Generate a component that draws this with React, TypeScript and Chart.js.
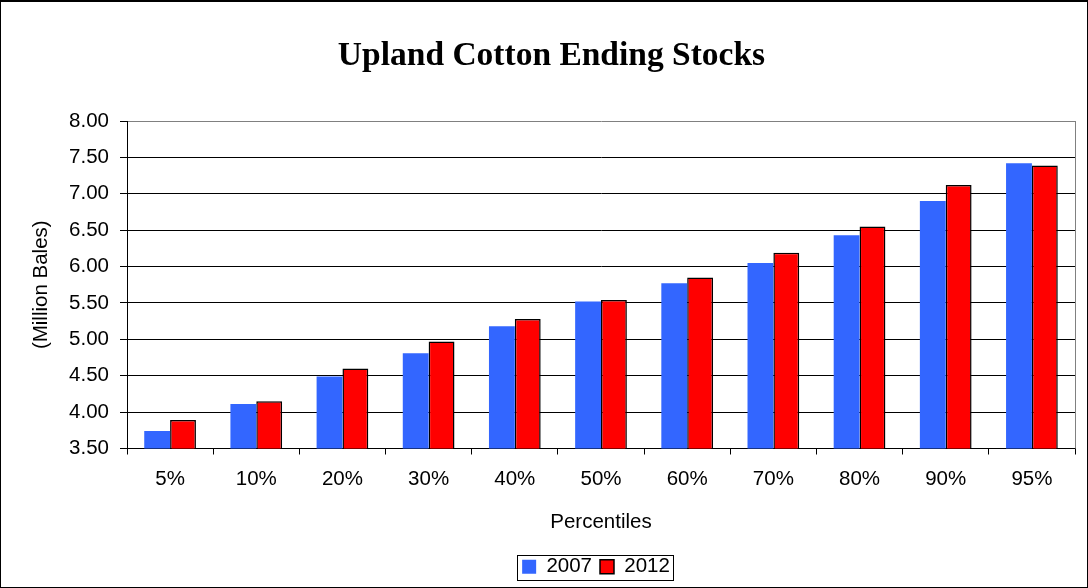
import React, { useEffect, useRef } from 'react';
import { Chart, registerables } from 'chart.js';

Chart.register(...registerables);

const categories = ['5%', '10%', '20%', '30%', '40%', '50%', '60%', '70%', '80%', '90%', '95%'];
const stocks2007 = [3.74, 4.11, 4.49, 4.81, 5.18, 5.52, 5.77, 6.05, 6.43, 6.9, 7.42];
const stocks2012 = [3.89, 4.15, 4.6, 4.97, 5.28, 5.54, 5.85, 6.19, 6.55, 7.12, 7.39];
const seriesLabels = ['2007', '2012'];
const yMin = 3.5;
const yMax = 8;
const yStep = 0.5;
const chartTitle = 'Upland Cotton Ending Stocks';
const yTitle = '(Million Bales)';
const xTitle = 'Percentiles';

const SANS = "'Liberation Sans', Arial, sans-serif";
const SERIF = "'Liberation Serif', 'Times New Roman', serif";
const FS = 20.5;

const framePlugin = {
  id: 'frame',
  afterUpdate(chart: any) {
    // shift title and legend so they sit where the reference places them
    const tb = chart.titleBlock;
    if (tb) {
      tb.left += 14;
      tb.right += 14;
    }
    const lg = chart.legend;
    if (lg) {
      const target = 600;
      const pad = lg.options.labels.padding || 0;
      const cur = (lg.left + lg.right + pad) / 2;
      const shift = target - cur;
      lg.left += shift;
      lg.right += shift;
      (lg.legendHitBoxes || []).forEach((h: any) => {
        h.left += shift;
      });
    }
  },
  beforeDraw(chart: any) {
    const { ctx, width, height } = chart;
    ctx.save();
    ctx.fillStyle = '#fff';
    ctx.fillRect(0, 0, width, height);
    ctx.restore();
  },
  afterDraw(chart: any) {
    const { ctx, chartArea: a, width, height } = chart;
    ctx.save();
    ctx.strokeStyle = '#808080';
    ctx.lineWidth = 1;
    ctx.beginPath();
    ctx.moveTo(Math.round(a.right) + 0.5, a.top);
    ctx.lineTo(Math.round(a.right) + 0.5, a.bottom);
    ctx.stroke();
    const boxes = chart.legend && chart.legend.legendHitBoxes;
    if (boxes && boxes.length) {
      let l = Infinity, r = -Infinity, t = Infinity, b = -Infinity;
      boxes.forEach((h: any) => {
        l = Math.min(l, h.left);
        r = Math.max(r, h.left + h.width);
        t = Math.min(t, h.top);
        b = Math.max(b, h.top + h.height);
      });
      ctx.strokeStyle = '#000';
      ctx.strokeRect(Math.round(l - 5) + 0.5, Math.round(t - 2) + 0.5, Math.round(r - l + 8), Math.round(b - t + 4));
    }
    ctx.strokeStyle = '#000';
    ctx.lineWidth = 1;
    ctx.strokeRect(0.5, 0.5, width - 1, height - 1);
    ctx.fillStyle = '#000';
    ctx.fillRect(0, 0, width, 2);
    ctx.restore();
  },
};

export default function App() {
  const ref = useRef<HTMLCanvasElement | null>(null);

  useEffect(() => {
    if (!ref.current) return;
    const chart = new Chart(ref.current, {
      type: 'bar',
      data: {
        labels: categories,
        datasets: [
          {
            label: seriesLabels[0],
            data: stocks2007,
            backgroundColor: '#3366FF',
            borderColor: '#3366FF',
            borderWidth: 0,
            categoryPercentage: 0.6,
            barPercentage: 1.0,
          },
          {
            label: seriesLabels[1],
            data: stocks2012,
            backgroundColor: '#FF0000',
            borderColor: '#000000',
            borderWidth: 1.5,
            categoryPercentage: 0.6,
            barPercentage: 1.0,
          },
        ],
      },
      options: {
        responsive: false,
        animation: false,
        devicePixelRatio: 1,
        layout: { padding: { left: 0, right: 13, top: 0, bottom: 1 } },
        plugins: {
          title: {
            display: true,
            text: chartTitle,
            color: '#000',
            font: { family: SERIF, size: 33.5, weight: 'bold' },
            padding: { top: 36, bottom: 44.8 },
          },
          legend: {
            display: true,
            position: 'bottom',
            labels: {
              color: '#000',
              font: { family: SANS, size: FS },
              boxWidth: 14,
              boxHeight: 14,
              padding: 8,
            },
          },
          tooltip: { enabled: false },
        },
        scales: {
          x: {
            grid: {
              display: true,
              drawOnChartArea: false,
              offset: true,
              tickLength: 6,
              color: '#000',
            },
            border: { display: true, color: '#000', width: 1 },
            ticks: { color: '#000', font: { family: SANS, size: FS }, padding: 13 },
            title: {
              display: true,
              text: xTitle,
              color: '#000',
              font: { family: SANS, size: FS },
              padding: { top: 0, bottom: 14 },
            },
            afterFit: (s: any) => {
              s.height = 100;
            },
          },
          y: {
            min: yMin,
            max: yMax,
            grid: {
              color: (c: any) => (c.tick && c.tick.value === yMax ? '#808080' : '#000'),
              lineWidth: 1,
              tickLength: 7,
              tickColor: '#000',
            },
            border: { display: true, color: '#000', width: 1 },
            ticks: {
              stepSize: yStep,
              color: '#000',
              font: { family: SANS, size: FS },
              padding: 11,
              callback: (v: any) => Number(v).toFixed(2),
            },
            title: {
              display: true,
              text: yTitle,
              color: '#000',
              font: { family: SANS, size: FS },
              padding: { top: 29, bottom: 0 },
            },
            afterFit: (s: any) => {
              s.width = 127;
            },
          },
        },
      },
      plugins: [framePlugin],
    });
    return () => chart.destroy();
  }, []);

  return (
    <div style={{ position: 'absolute', left: 0, top: 0, width: 1088, height: 588 }}>
      <canvas ref={ref} width={1088} height={588} style={{ display: 'block', width: 1088, height: 588 }} />
    </div>
  );
}
